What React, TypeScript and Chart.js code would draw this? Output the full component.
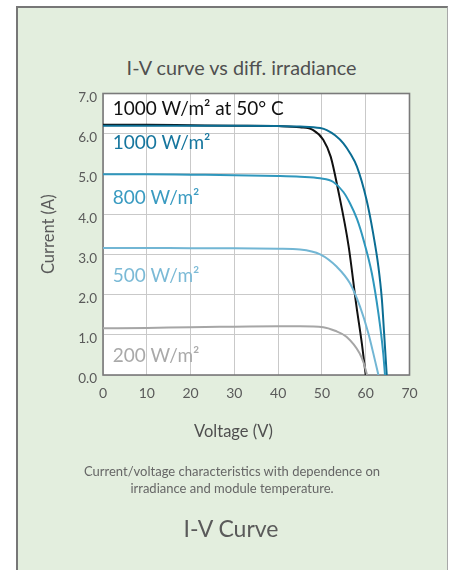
import React, { useEffect, useRef } from "react";
import { Chart, registerables } from "chart.js";

Chart.register(...registerables);

// ---- data ----
const voltageTicks = [0, 10, 20, 30, 40, 50, 60, 70];
const currentTicks = [0, 1, 2, 3, 4, 5, 6, 7];

const v1000at50 = [0, 10, 20, 30, 40, 45, 48, 50.3, 52.0, 53.7, 56.1, 57.9, 59.1, 60.0];
const i1000at50 = [6.22, 6.22, 6.21, 6.2, 6.19, 6.16, 6.09, 5.85, 5.43, 4.6, 3.2, 1.7, 0.8, 0.0];

const v1000 = [0, 10, 20, 30, 40, 45, 49.6, 51.1, 53.0, 54.9, 56.5, 58.0, 60.2, 61.7, 62.9, 63.7, 64.2, 64.8];
const i1000 = [6.2, 6.2, 6.2, 6.2, 6.19, 6.18, 6.14, 6.09, 5.96, 5.76, 5.5, 5.18, 4.35, 3.52, 2.69, 1.87, 1.04, 0.0];

const v800 = [0, 10, 20, 30, 40, 45, 49.6, 52.6, 54.9, 56.4, 58.0, 59.5, 61.4, 62.9, 64.0, 64.4];
const i800 = [4.99, 4.99, 4.98, 4.97, 4.95, 4.93, 4.89, 4.8, 4.55, 4.27, 3.88, 3.36, 2.53, 1.53, 0.54, 0.0];

const v500 = [0, 10, 20, 30, 40, 45, 49.6, 53.4, 56.4, 58.7, 60.6, 62.1, 62.9];
const i500 = [3.16, 3.16, 3.15, 3.15, 3.14, 3.12, 3.0, 2.69, 2.28, 1.7, 1.04, 0.37, 0.0];

const v200 = [0, 10, 20, 30, 40, 45, 50.3, 53.0, 55.6, 58.6, 59.6, 60.3];
const i200 = [1.16, 1.17, 1.19, 1.2, 1.21, 1.21, 1.19, 1.1, 0.95, 0.54, 0.28, 0.0];

const seriesNames = ["1000 W/m² at 50° C", "1000 W/m²", "800 W/m²", "500 W/m²", "200 W/m²"];
const seriesColors = ["#111111", "#0b6d93", "#2f97bd", "#72b6d4", "#a6a6a6"];
const labelColors = ["#111111", "#16769e", "#3a9bc1", "#7bbad6", "#a9a9a9"];
// label anchor positions, in data units (voltage, current)
const labelVolts = [2.2, 2.2, 2.2, 2.2, 2.2];
const labelCurrents = [6.63, 5.78, 4.41, 2.47, 0.48];

const FONT = "Lato, 'Open Sans', sans-serif";

const zip = (xs: number[], ys: number[]) => xs.map((x, i) => ({ x, y: ys[i] }));

const plotDecor = {
  id: "plotDecor",
  beforeDraw(chart: any) {
    const { ctx, chartArea: a } = chart;
    ctx.save();
    ctx.fillStyle = "#ffffff";
    ctx.fillRect(a.left, a.top, a.right - a.left, a.bottom - a.top);
    ctx.restore();
  },
  beforeDatasetsDraw(chart: any) {
    const { ctx, chartArea: a, scales } = chart;
    ctx.save();
    ctx.strokeStyle = "#7a7a7a";
    ctx.lineWidth = 1.6;
    ctx.strokeRect(a.left, a.top, a.right - a.left, a.bottom - a.top);
    // in-plot series labels
    ctx.font = `19px ${FONT}`;
    ctx.textAlign = "left";
    ctx.textBaseline = "middle";
    seriesNames.forEach((name, i) => {
      ctx.fillStyle = labelColors[i];
      ctx.fillText(name, scales.x.getPixelForValue(labelVolts[i]), scales.y.getPixelForValue(labelCurrents[i]));
    });
    ctx.restore();
  },
};

function IVChart() {
  const ref = useRef<HTMLCanvasElement | null>(null);
  useEffect(() => {
    if (!ref.current) return;
    const data = [
      zip(v200, i200),
      zip(v500, i500),
      zip(v800, i800),
      zip(v1000, i1000),
      zip(v1000at50, i1000at50),
    ];
    const colors = [seriesColors[4], seriesColors[3], seriesColors[2], seriesColors[1], seriesColors[0]];
    const names = [seriesNames[4], seriesNames[3], seriesNames[2], seriesNames[1], seriesNames[0]];
    const chart = new Chart(ref.current, {
      type: "line",
      data: {
        datasets: data.map((d, i) => ({
          label: names[i],
          data: d,
          borderColor: colors[i],
          borderWidth: 2,
          pointRadius: 0,
          fill: false,
          cubicInterpolationMode: "monotone" as const,
        })),
      },
      options: {
        animation: false,
        responsive: false,
        maintainAspectRatio: false,
        layout: { padding: { left: 20, right: 44.5, top: 93.5, bottom: 0 } },
        plugins: { legend: { display: false }, tooltip: { enabled: false } },
        scales: {
          x: {
            type: "linear",
            min: voltageTicks[0],
            max: voltageTicks[voltageTicks.length - 1],
            afterBuildTicks: (s: any) => {
              s.ticks = voltageTicks.map((v) => ({ value: v }));
            },
            ticks: {
              color: "#5a5a5a",
              font: { family: FONT, size: 14 },
              padding: 10,
              maxRotation: 0,
              callback: (v: any) => String(v),
            },
            grid: { color: "#c9c9c9", lineWidth: 1, drawTicks: false },
            border: { display: false },
            afterFit: (s: any) => {
              s.height = 85;
            },
          },
          y: {
            type: "linear",
            min: currentTicks[0],
            max: currentTicks[currentTicks.length - 1],
            afterBuildTicks: (s: any) => {
              s.ticks = currentTicks.map((v) => ({ value: v }));
            },
            ticks: {
              color: "#5a5a5a",
              font: { family: FONT, size: 13.5 },
              padding: 6,
              labelOffset: 4,
              callback: (v: any) => Number(v).toFixed(1),
            },
            grid: { color: "#c9c9c9", lineWidth: 1, drawTicks: false },
            border: { display: false },
            title: {
              display: true,
              text: "Current (A)",
              color: "#5a5a5a",
              font: { family: FONT, size: 16.5, lineHeight: 1.2 },
              padding: { top: 19, bottom: 0 },
            },
            afterFit: (s: any) => {
              s.width = 83;
            },
          },
        },
      },
      plugins: [plotDecor],
    });
    return () => chart.destroy();
  }, []);
  return (
    <canvas
      ref={ref}
      width={454}
      height={460}
      style={{ position: "absolute", left: 0, top: 0, width: 454, height: 460 }}
    />
  );
}

const centered = (cx: number, top: number, size: number, lh: number, color: string): React.CSSProperties => ({
  position: "absolute",
  left: cx - 200,
  width: 400,
  top,
  textAlign: "center",
  fontFamily: FONT,
  fontSize: size,
  lineHeight: `${lh}px`,
  color,
  whiteSpace: "nowrap",
});

export default function App() {
  return (
    <div
      style={{
        position: "absolute",
        left: 0,
        top: 0,
        width: 454,
        height: 570,
        overflow: "hidden",
        background: "#ffffff",
      }}
    >
      <div
        style={{
          position: "absolute",
          left: 16,
          top: 6,
          width: 432,
          height: 570,
          boxSizing: "border-box",
          background: "#e3eede",
          borderLeft: "2px solid #777777",
          borderTop: "2px solid #777777",
          borderRight: "1.5px solid #a8a8a8",
        }}
      />
      <div style={centered(241.5, 56, 19.8, 22, "#505050")}>I-V curve vs diff. irradiance</div>
      <IVChart />
      <div style={centered(233.5, 421, 16.5, 20, "#4f4f4f")}>Voltage (V)</div>
      <div style={centered(232, 463, 13, 17, "#666666")}>
        Current/voltage characteristics with dependence on
        <br />
        irradiance and module temperature.
      </div>
      <div style={centered(231, 514, 23, 28, "#5a5a5a")}>I-V Curve</div>
    </div>
  );
}
